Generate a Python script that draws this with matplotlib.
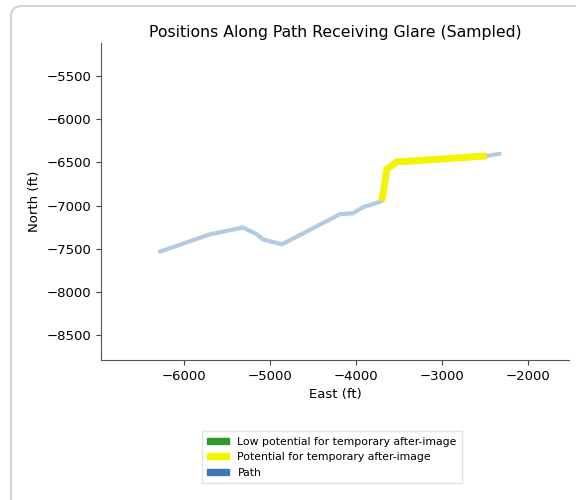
import matplotlib
matplotlib.use("Agg")
import matplotlib.pyplot as plt
from matplotlib.patches import FancyBboxPatch, Patch

# path sampled positions (ft)
path_east = [-6280, -5700, -5315, -5150, -5080, -4860, -4185, -4035, -3920, -3700,
             -3640, -3525, -2480, -2330]
path_north = [-7535, -7335, -7255, -7335, -7395, -7450, -7100, -7090, -7020, -6950,
              -6575, -6495, -6425, -6400]
# segment receiving glare (potential for temporary after-image)
glare_east = [-3700, -3640, -3525, -2480]
glare_north = [-6950, -6575, -6495, -6425]

title = "Positions Along Path Receiving Glare (Sampled)"
legend_labels = ["Low potential for temporary after-image",
                 "Potential for temporary after-image", "Path"]
legend_colors = ["#2e9a2e", "#f4f400", "#3b78b5"]

fig = plt.figure(figsize=(5.76, 5.0), dpi=100)
fig.patches.append(FancyBboxPatch((11 / 576, -0.1), 1.2, 1.0 - 6 / 500 + 0.1,
                                  boxstyle="round,pad=0,rounding_size=0.02",
                                  transform=fig.transFigure, fc="white",
                                  ec="#d4d4d4", lw=1.5, zorder=-10))

ax = fig.add_axes([101 / 576, 140 / 500, 468 / 576, 317 / 500])
ax.set_facecolor("none")
ax.plot(path_east, path_north, color="#aac6dd", lw=3.0, alpha=0.9,
        solid_capstyle="round", solid_joinstyle="round", zorder=2)
ax.plot(glare_east, glare_north, color="#f4f400", lw=5.0,
        solid_capstyle="butt", solid_joinstyle="round", zorder=3)

ax.set_xlim(-6965, -1523)
ax.set_ylim(-8792, -5115)
ax.set_xticks([-6000, -5000, -4000, -3000, -2000])
ax.set_yticks([-5500, -6000, -6500, -7000, -7500, -8000, -8500])
ax.tick_params(labelsize=9.5, color="#444444", length=3.5)
for s in ["top", "right"]:
    ax.spines[s].set_visible(False)
for s in ["left", "bottom"]:
    ax.spines[s].set_color("#555555")
    ax.spines[s].set_linewidth(0.8)
ax.set_xlabel("East (ft)", fontsize=9.5)
ax.set_ylabel("North (ft)", fontsize=9.5)
ax.set_title(title, fontsize=11.3, pad=4)

handles = [Patch(color=c, label=l) for c, l in zip(legend_colors, legend_labels)]
fig.legend(handles=handles, loc="upper center", bbox_to_anchor=(332 / 576, 0.148),
           fontsize=7.8, frameon=True, edgecolor="#dddddd", fancybox=False,
           handlelength=2.0, handleheight=0.5, borderpad=0.5)

fig.savefig("out.png", dpi=100)
